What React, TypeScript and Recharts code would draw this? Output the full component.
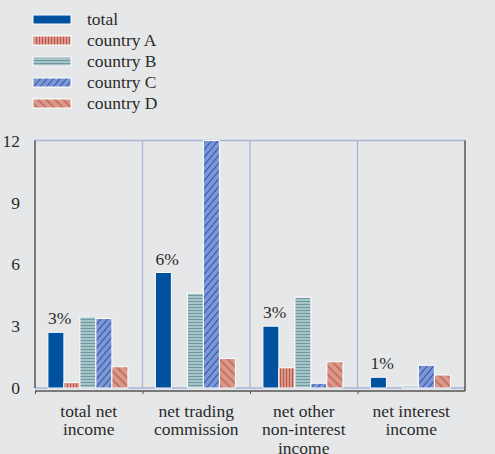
import { BarChart, Bar, XAxis, YAxis, CartesianGrid, LabelList } from "recharts";

const categories = [
  "total net\nincome",
  "net trading\ncommission",
  "net other\nnon-interest\nincome",
  "net interest\nincome",
];
const total = [2.7, 5.6, 3.0, 0.52];
const countryA = [0.26, 0, 0.98, 0];
const countryB = [3.45, 4.6, 4.4, 0.11];
const countryC = [3.37, 12, 0.23, 1.1];
const countryD = [1.03, 1.43, 1.27, 0.63];
const totalLabels = ["3%", "6%", "3%", "1%"];
const yTicks = [0, 3, 6, 9, 12];

const seriesNames = ["total", "country A", "country B", "country C", "country D"];
const seriesKeys = ["total", "a", "b", "c", "d"];
const seriesFills = ["#00519e", "url(#patA)", "url(#patB)", "url(#patC)", "url(#patD)"];
const legendFills = ["#00519e", "url(#lgA)", "url(#lgB)", "url(#lgC)", "url(#lgD)"];

const data = categories.map((name, i) => ({
  name,
  total: total[i],
  a: countryA[i],
  b: countryB[i],
  c: countryC[i],
  d: countryD[i],
  label: totalLabels[i],
}));

const FONT = "Liberation Serif";
const FS = 17.5;
const TEXT = "#2b2b2b";
const GRID = "#a9b3dc";
const AXIS = "#555";
const BG = "#e6e7e9";

function Patterns({ prefix }: { prefix: string }) {
  return (
    <defs>
      <pattern id={`${prefix}A`} width={3} height={3} patternUnits="userSpaceOnUse">
        <rect width={3} height={3} fill="#dc9c8f" />
        <line x1={1.5} y1={0} x2={1.5} y2={3} stroke="#b9574a" strokeWidth={1.1} />
      </pattern>
      <pattern id={`${prefix}B`} width={3} height={3} patternUnits="userSpaceOnUse">
        <rect width={3} height={3} fill="#abc6ca" />
        <line x1={0} y1={1.5} x2={3} y2={1.5} stroke="#6a99a1" strokeWidth={1.1} />
      </pattern>
      <pattern
        id={`${prefix}C`}
        width={5}
        height={5}
        patternUnits="userSpaceOnUse"
        patternTransform="rotate(40)"
      >
        <rect width={5} height={5} fill="#7f96d0" />
        <line x1={2.5} y1={0} x2={2.5} y2={5} stroke="#2158b5" strokeWidth={1} />
      </pattern>
      <pattern
        id={`${prefix}D`}
        width={6}
        height={6}
        patternUnits="userSpaceOnUse"
        patternTransform="rotate(-45)"
      >
        <rect width={6} height={6} fill="#d9998b" />
        <line x1={3} y1={0} x2={3} y2={6} stroke="#b54a3e" strokeWidth={1} />
      </pattern>
    </defs>
  );
}

// html legend, so the serif face gets picked up by the page
function Legend() {
  return (
    <div style={{ position: "absolute", left: 0, top: 9, fontFamily: '"Liberation Serif"', fontSize: FS, color: TEXT }}>
      <svg width={0} height={0} style={{ position: "absolute" }}>
        <Patterns prefix="lg" />
      </svg>
      {seriesNames.map((name, i) => (
        <div key={name} style={{ display: "flex", alignItems: "center", height: 21 }}>
          <svg width={40} height={11} style={{ marginLeft: 32, marginRight: 15 }}>
            <rect x={1} y={1} width={38} height={9} fill={legendFills[i]} stroke="#fff" strokeWidth={1} />
          </svg>
          <span style={{ lineHeight: "21px" }}>{name}</span>
        </div>
      ))}
    </div>
  );
}

const BAND = 107.5;

function CategoryTick(props: any) {
  const { x, y, payload, index } = props;
  const lines = String(payload.value).split("\n");
  const ly = y + 3;
  return (
    <g>
      <line x1={x - BAND / 2} y1={ly} x2={x + BAND / 2} y2={ly} stroke={AXIS} strokeWidth={1.5} />
      <line x1={x - BAND / 2 + 0.5} y1={ly} x2={x - BAND / 2 + 0.5} y2={ly + 3} stroke={AXIS} strokeWidth={1} />
      {index === 3 && (
        <line x1={x + BAND / 2} y1={ly - 3} x2={x + BAND / 2} y2={ly} stroke={AXIS} strokeWidth={1.5} />
      )}
      <text textAnchor="middle" fontFamily={FONT} fontSize={FS} fill={TEXT}>
        {lines.map((l, i) => (
          <tspan key={i} x={x} y={y + 29 + i * 18.3}>
            {l}
          </tspan>
        ))}
      </text>
    </g>
  );
}

function TotalLabel(props: any) {
  const { x, y, value } = props;
  return (
    <text x={x} y={y - 8} fontFamily={FONT} fontSize={FS} fill={TEXT}>
      {value}
    </text>
  );
}

export default function App() {
  return (
    <div
      style={{
        position: "absolute",
        left: 0,
        top: 0,
        width: 495,
        height: 454,
        background: BG,
        fontFamily: '"Liberation Serif"',
      }}
    >
      <BarChart
        width={495}
        height={454}
        data={data}
        margin={{ top: 140.5, right: 0, left: 0, bottom: 0 }}
        barCategoryGap="12%"
        barGap={0}
        style={{ fontFamily: '"Liberation Serif"' }}
      >
        <Patterns prefix="pat" />
        <CartesianGrid
          stroke={GRID}
          strokeWidth={1.3}
          verticalCoordinatesGenerator={({ offset }: any) =>
            [1, 2, 3].map((k) => offset.left + (offset.width * k) / 4)
          }
        />
        <XAxis
          dataKey="name"
          height={66}
          axisLine={false}
          tickLine={false}
          tickSize={0}
          tickMargin={0}
          interval={0}
          tick={<CategoryTick />}
        />
        <YAxis
          yAxisId="left"
          orientation="left"
          width={35}
          domain={[0, 12]}
          ticks={yTicks}
          axisLine={{ stroke: AXIS, strokeWidth: 1.5 }}
          tickLine={false}
          tickMargin={9}
          tick={{ fontFamily: FONT, fontSize: FS, fill: TEXT }}
        />
        <YAxis
          yAxisId="right"
          orientation="right"
          width={30}
          domain={[0, 12]}
          ticks={yTicks}
          axisLine={{ stroke: AXIS, strokeWidth: 1.5 }}
          tickLine={false}
          tickMargin={8}
          tick={{ fontFamily: FONT, fontSize: FS, fill: TEXT, textAnchor: "start" }}
        />
        {seriesKeys.map((key, i) => (
          <Bar
            key={key}
            yAxisId="left"
            dataKey={key}
            name={seriesNames[i]}
            fill={seriesFills[i]}
            stroke="#fff"
            strokeWidth={1}
            isAnimationActive={false}
          >
            {key === "total" && <LabelList dataKey="label" content={<TotalLabel />} />}
          </Bar>
        ))}
      </BarChart>
      <Legend />
    </div>
  );
}
